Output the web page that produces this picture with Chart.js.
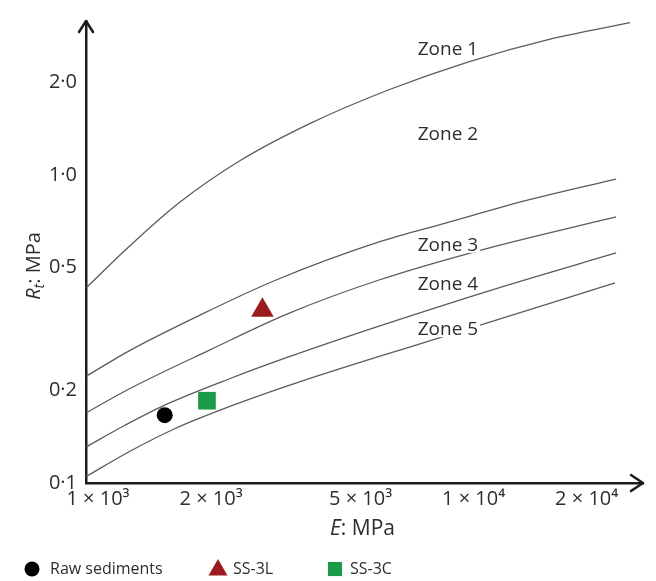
<!DOCTYPE html>
<html><head><meta charset="utf-8">
<script src="https://cdn.jsdelivr.net/npm/chart.js@4.4.1/dist/chart.umd.min.js"></script>
<style>html,body{margin:0;padding:0;background:#fff}#wrap{width:656px;height:581px;position:relative}</style>
</head><body><div id="wrap"><canvas id="c"></canvas></div>
<script>
// ---- tick labels ----
const xTickValues = [1000, 2000, 5000, 10000, 20000];
const xTickLabels = ['1 × 10³', '2 × 10³', '5 × 10³', '1 × 10⁴', '2 × 10⁴'];
const yTickValues = [0.1, 0.2, 0.5, 1, 2];
const yTickLabels = ['0·1', '0·2', '0·5', '1·0', '2·0'];

// ---- zone boundary curves (E in MPa, Rt in MPa) ----
const boundary12E  = [930, 1220, 1650, 2380, 3650, 5950, 9700, 15800, 26100];
const boundary12Rt = [0.43, 0.591, 0.815, 1.11, 1.465, 1.89, 2.33, 2.75, 3.12];
const boundary23E  = [930, 1220, 1870, 2980, 5600, 8430, 14000, 23950];
const boundary23Rt = [0.222, 0.270, 0.351, 0.456, 0.606, 0.698, 0.830, 0.970];
const boundary34E  = [930, 1220, 1980, 3230, 5600, 10960, 23950];
const boundary34Rt = [0.169, 0.203, 0.270, 0.356, 0.456, 0.579, 0.731];
const boundary45E  = [930, 1180, 1505, 2240, 3230, 5600, 11440, 23950];
const boundary45Rt = [0.131, 0.154, 0.179, 0.218, 0.257, 0.323, 0.427, 0.558];
const boundary5E   = [930, 1220, 1600, 2380, 3440, 7600, 23800];
const boundary5Rt  = [0.105, 0.127, 0.150, 0.182, 0.213, 0.289, 0.446];

// ---- samples ----
const sampleNames = ['Raw sediments', 'SS-3L', 'SS-3C'];
const sampleE  = [1505, 2740, 1950];
const sampleRt = [0.166, 0.364, 0.185];

// ---- zone labels (anchored at left/baseline) ----
const zoneNames   = ['Zone 1', 'Zone 2', 'Zone 3', 'Zone 4', 'Zone 5'];
const zoneLabelE  = [7100, 7100, 7100, 7100, 7100];
const zoneLabelRt = [2.45, 1.30, 0.567, 0.423, 0.302];

const FONT = "'Open Sans', 'Noto Sans', sans-serif";
const TEXT = '#2e2e2e';
const AXIS = '#1c1c1c';

const pts = (xs, ys) => xs.map((v, i) => ({x: v, y: ys[i]}));
const curve = (xs, ys) => ({
  data: pts(xs, ys), showLine: true, pointRadius: 0, borderColor: '#5e5a5b',
  borderWidth: 1.3, cubicInterpolationMode: 'monotone', fill: false
});
const sampleStyles = [
  {pointStyle: 'circle', radius: 8, color: '#000000'},
  {pointStyle: 'triangle', radius: 13, color: '#9c1b1f'},
  {pointStyle: 'rect', radius: 12.5, color: '#1d9a48'}
];
const sampleSets = sampleNames.map((n, i) => ({
  label: n, data: [{x: sampleE[i], y: sampleRt[i]}], showLine: false,
  pointStyle: sampleStyles[i].pointStyle, pointRadius: sampleStyles[i].radius,
  pointBackgroundColor: sampleStyles[i].color, pointBorderColor: sampleStyles[i].color,
  pointBorderWidth: 0, pointHoverRadius: sampleStyles[i].radius
}));

function drawShape(ctx, style, cx, cy, r, color) {
  ctx.fillStyle = color;
  ctx.beginPath();
  if (style === 'circle') { ctx.arc(cx, cy, r, 0, Math.PI * 2); }
  else if (style === 'triangle') {
    ctx.moveTo(cx, cy - r); ctx.lineTo(cx + r * 0.866, cy + r * 0.5); ctx.lineTo(cx - r * 0.866, cy + r * 0.5); ctx.closePath();
  } else { const s = r * Math.SQRT1_2; ctx.rect(cx - s, cy - s, 2 * s, 2 * s); }
  ctx.fill();
}

const decor = {
  id: 'decor',
  afterDatasetsDraw(chart) {
    const {ctx, scales: {x, y}} = chart;
    ctx.save();
    ctx.font = '19px ' + FONT;
    ctx.textBaseline = 'alphabetic';
    ctx.textAlign = 'left';
    zoneNames.forEach((t, i) => {
      const px = x.getPixelForValue(zoneLabelE[i]);
      const py = y.getPixelForValue(zoneLabelRt[i]);
      const w = ctx.measureText(t).width;
      ctx.fillStyle = '#ffffff';
      ctx.fillRect(px - 2, py - 15, w + 4, 17);
      ctx.fillStyle = TEXT;
      ctx.fillText(t, px, py);
    });
    ctx.restore();
  },
  afterDraw(chart) {
    const {ctx, chartArea: a} = chart;
    ctx.save();
    // arrows
    ctx.strokeStyle = AXIS; ctx.lineWidth = 2.5; ctx.lineCap = 'round'; ctx.lineJoin = 'round';
    ctx.beginPath(); ctx.moveTo(a.left - 7, a.top + 11); ctx.lineTo(a.left, a.top); ctx.lineTo(a.left + 7, a.top + 11); ctx.stroke();
    ctx.beginPath(); ctx.moveTo(a.right - 12, a.bottom - 8); ctx.lineTo(a.right, a.bottom); ctx.lineTo(a.right - 12, a.bottom + 8); ctx.stroke();
    // x title: E: MPa
    ctx.fillStyle = TEXT; ctx.textBaseline = 'alphabetic'; ctx.textAlign = 'left';
    const it = 'italic 21px ' + FONT, nf = '21px ' + FONT;
    ctx.font = it; const wE = ctx.measureText('E').width;
    ctx.font = nf; const wRest = ctx.measureText(': MPa').width;
    const cx = (a.left + a.right) / 2 - 2;
    let sx = cx - (wE + wRest) / 2;
    ctx.font = it; ctx.fillText('E', sx, 535);
    ctx.font = nf; ctx.fillText(': MPa', sx + wE, 535);
    // y title: Rt: MPa (rotated)
    ctx.save();
    ctx.translate(40, 266); ctx.rotate(-Math.PI / 2);
    const it2 = 'italic 20px ' + FONT, nf2 = '20px ' + FONT;
    ctx.font = it2; const wR = ctx.measureText('R').width;
    ctx.font = 'italic 14px ' + FONT; const wt = ctx.measureText('t').width;
    ctx.font = nf2; const wM = ctx.measureText(': MPa').width;
    let s = -(wR + wt + wM) / 2;
    ctx.font = it2; ctx.fillText('R', s, 0);
    ctx.font = 'italic 14px ' + FONT; ctx.fillText('t', s + wR, 4);
    ctx.font = nf2; ctx.fillText(': MPa', s + wR + wt, 0);
    ctx.restore();
    // legend
    const legendY = 569;
    const lx = [[32, 50], [218, 233], [335, 350]];
    ctx.font = '16px ' + FONT; ctx.textBaseline = 'middle';
    const legR = [7.5, 11, 10];
    sampleNames.forEach((n, i) => {
      drawShape(ctx, sampleStyles[i].pointStyle, lx[i][0], legendY + (i === 1 ? 1 : 0), legR[i], sampleStyles[i].color);
      ctx.fillStyle = TEXT; ctx.fillText(n, lx[i][1], legendY);
    });
    ctx.restore();
  }
};

new Chart(document.getElementById('c'), {
  type: 'scatter',
  data: {
    datasets: [
      curve(boundary12E, boundary12Rt), curve(boundary23E, boundary23Rt), curve(boundary34E, boundary34Rt),
      curve(boundary45E, boundary45Rt), curve(boundary5E, boundary5Rt), ...sampleSets
    ]
  },
  options: {
    responsive: true, maintainAspectRatio: false, animation: false,
    layout: {padding: {left: 0, right: 11, top: 12, bottom: 48}},
    plugins: {legend: {display: false}, tooltip: {enabled: false}},
    scales: {
      x: {
        type: 'logarithmic', min: 929, max: 28250, bounds: 'data',
        afterBuildTicks: s => { s.ticks = xTickValues.map(v => ({value: v})); },
        afterFit: s => { s.height = 50; },
        grid: {display: false, drawTicks: false},
        border: {display: true, color: AXIS, width: 2.5},
        ticks: {autoSkip: false, maxRotation: 0, padding: 4, color: TEXT, font: {family: FONT, size: 20},
          callback: v => { const i = xTickValues.indexOf(v); return i >= 0 ? xTickLabels[i] : ''; }}
      },
      y: {
        type: 'logarithmic', min: 0.1, max: 3.16, bounds: 'data',
        afterBuildTicks: s => { s.ticks = yTickValues.map(v => ({value: v})); },
        afterFit: s => { s.width = 86; },
        grid: {display: false, drawTicks: false},
        border: {display: true, color: AXIS, width: 2.5},
        ticks: {autoSkip: false, padding: 9, color: TEXT, font: {family: FONT, size: 20},
          callback: v => { const i = yTickValues.indexOf(v); return i >= 0 ? yTickLabels[i] : ''; }}
      }
    }
  },
  plugins: [decor]
});
</script></body></html>
